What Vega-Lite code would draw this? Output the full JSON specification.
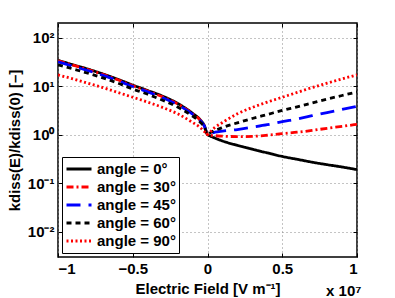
{
  "$schema": "https://vega.github.io/schema/vega-lite/v6.json",
  "width": 299,
  "height": 234,
  "autosize": {"type": "none"},
  "padding": {"left": 58, "top": 23, "right": 38, "bottom": 41},
  "background": "white",
  "title": {"text": "x 10⁷", "orient": "bottom", "anchor": "end", "font": "Liberation Sans", "fontSize": 15, "fontWeight": "bold", "color": "black", "offset": -12, "dx": 4},
  "config": {
    "font": "Liberation Sans",
    "view": {"stroke": "black", "strokeWidth": 1.5},
    "axis": {"labelFont": "Liberation Sans", "labelFontWeight": "bold", "labelFontSize": 15, "labelColor": "black", "titleFont": "Liberation Sans", "titleFontWeight": "bold", "titleFontSize": 15, "titleColor": "black", "domain": false, "tickColor": "black", "tickSize": -4, "tickWidth": 1, "grid": true, "gridColor": "#888", "gridDash": [1, 3], "gridWidth": 1}
  },
  "data": {"values": [
    {"x": -1, "y": 33.9, "a": "angle = 0°"}, {"x": -0.9, "y": 27.5, "a": "angle = 0°"}, {"x": -0.8, "y": 22.4, "a": "angle = 0°"}, {"x": -0.7, "y": 17.8, "a": "angle = 0°"}, {"x": -0.6, "y": 13.8, "a": "angle = 0°"}, {"x": -0.5, "y": 10.5, "a": "angle = 0°"}, {"x": -0.4, "y": 8.1, "a": "angle = 0°"}, {"x": -0.3, "y": 6.2, "a": "angle = 0°"}, {"x": -0.2, "y": 4.4, "a": "angle = 0°"}, {"x": -0.1, "y": 2.75, "a": "angle = 0°"}, {"x": -0.05, "y": 2.04, "a": "angle = 0°"}, {"x": -0.02, "y": 1.51, "a": "angle = 0°"}, {"x": 0, "y": 1, "a": "angle = 0°"}, {"x": 0.02, "y": 0.93, "a": "angle = 0°"}, {"x": 0.05, "y": 0.85, "a": "angle = 0°"}, {"x": 0.1, "y": 0.74, "a": "angle = 0°"}, {"x": 0.2, "y": 0.6, "a": "angle = 0°"}, {"x": 0.3, "y": 0.5, "a": "angle = 0°"}, {"x": 0.4, "y": 0.42, "a": "angle = 0°"}, {"x": 0.5, "y": 0.355, "a": "angle = 0°"}, {"x": 0.6, "y": 0.31, "a": "angle = 0°"}, {"x": 0.7, "y": 0.27, "a": "angle = 0°"}, {"x": 0.8, "y": 0.24, "a": "angle = 0°"}, {"x": 0.9, "y": 0.215, "a": "angle = 0°"}, {"x": 1, "y": 0.19, "a": "angle = 0°"},
    {"x": -1, "y": 33.2, "a": "angle = 30°"}, {"x": -0.9, "y": 27.0, "a": "angle = 30°"}, {"x": -0.8, "y": 22.0, "a": "angle = 30°"}, {"x": -0.7, "y": 17.4, "a": "angle = 30°"}, {"x": -0.6, "y": 13.5, "a": "angle = 30°"}, {"x": -0.5, "y": 10.2, "a": "angle = 30°"}, {"x": -0.4, "y": 7.9, "a": "angle = 30°"}, {"x": -0.3, "y": 6.0, "a": "angle = 30°"}, {"x": -0.2, "y": 4.3, "a": "angle = 30°"}, {"x": -0.1, "y": 2.7, "a": "angle = 30°"}, {"x": -0.05, "y": 2.0, "a": "angle = 30°"}, {"x": -0.02, "y": 1.48, "a": "angle = 30°"}, {"x": 0, "y": 1, "a": "angle = 30°"}, {"x": 0.02, "y": 0.97, "a": "angle = 30°"}, {"x": 0.05, "y": 0.95, "a": "angle = 30°"}, {"x": 0.1, "y": 0.93, "a": "angle = 30°"}, {"x": 0.2, "y": 0.91, "a": "angle = 30°"}, {"x": 0.3, "y": 0.92, "a": "angle = 30°"}, {"x": 0.4, "y": 0.97, "a": "angle = 30°"}, {"x": 0.5, "y": 1.05, "a": "angle = 30°"}, {"x": 0.6, "y": 1.12, "a": "angle = 30°"}, {"x": 0.7, "y": 1.22, "a": "angle = 30°"}, {"x": 0.8, "y": 1.35, "a": "angle = 30°"}, {"x": 0.9, "y": 1.48, "a": "angle = 30°"}, {"x": 1, "y": 1.63, "a": "angle = 30°"},
    {"x": -1, "y": 31.6, "a": "angle = 45°"}, {"x": -0.9, "y": 25.7, "a": "angle = 45°"}, {"x": -0.8, "y": 20.9, "a": "angle = 45°"}, {"x": -0.7, "y": 16.6, "a": "angle = 45°"}, {"x": -0.6, "y": 12.9, "a": "angle = 45°"}, {"x": -0.5, "y": 9.8, "a": "angle = 45°"}, {"x": -0.4, "y": 7.6, "a": "angle = 45°"}, {"x": -0.3, "y": 5.75, "a": "angle = 45°"}, {"x": -0.2, "y": 4.12, "a": "angle = 45°"}, {"x": -0.1, "y": 2.63, "a": "angle = 45°"}, {"x": -0.05, "y": 1.95, "a": "angle = 45°"}, {"x": -0.02, "y": 1.48, "a": "angle = 45°"}, {"x": 0, "y": 1, "a": "angle = 45°"}, {"x": 0.02, "y": 1.06, "a": "angle = 45°"}, {"x": 0.05, "y": 1.12, "a": "angle = 45°"}, {"x": 0.1, "y": 1.18, "a": "angle = 45°"}, {"x": 0.2, "y": 1.27, "a": "angle = 45°"}, {"x": 0.3, "y": 1.42, "a": "angle = 45°"}, {"x": 0.4, "y": 1.6, "a": "angle = 45°"}, {"x": 0.5, "y": 1.85, "a": "angle = 45°"}, {"x": 0.6, "y": 2.1, "a": "angle = 45°"}, {"x": 0.7, "y": 2.45, "a": "angle = 45°"}, {"x": 0.8, "y": 2.85, "a": "angle = 45°"}, {"x": 0.9, "y": 3.3, "a": "angle = 45°"}, {"x": 1, "y": 3.85, "a": "angle = 45°"},
    {"x": -1, "y": 27.5, "a": "angle = 60°"}, {"x": -0.9, "y": 22.6, "a": "angle = 60°"}, {"x": -0.8, "y": 18.4, "a": "angle = 60°"}, {"x": -0.7, "y": 14.8, "a": "angle = 60°"}, {"x": -0.6, "y": 11.5, "a": "angle = 60°"}, {"x": -0.5, "y": 8.7, "a": "angle = 60°"}, {"x": -0.4, "y": 6.8, "a": "angle = 60°"}, {"x": -0.3, "y": 5.1, "a": "angle = 60°"}, {"x": -0.2, "y": 3.7, "a": "angle = 60°"}, {"x": -0.1, "y": 2.4, "a": "angle = 60°"}, {"x": -0.05, "y": 1.82, "a": "angle = 60°"}, {"x": -0.02, "y": 1.41, "a": "angle = 60°"}, {"x": 0, "y": 1, "a": "angle = 60°"}, {"x": 0.02, "y": 1.1, "a": "angle = 60°"}, {"x": 0.05, "y": 1.22, "a": "angle = 60°"}, {"x": 0.1, "y": 1.4, "a": "angle = 60°"}, {"x": 0.2, "y": 1.75, "a": "angle = 60°"}, {"x": 0.3, "y": 2.15, "a": "angle = 60°"}, {"x": 0.4, "y": 2.6, "a": "angle = 60°"}, {"x": 0.5, "y": 3.15, "a": "angle = 60°"}, {"x": 0.6, "y": 3.75, "a": "angle = 60°"}, {"x": 0.7, "y": 4.5, "a": "angle = 60°"}, {"x": 0.8, "y": 5.4, "a": "angle = 60°"}, {"x": 0.9, "y": 6.4, "a": "angle = 60°"}, {"x": 1, "y": 7.6, "a": "angle = 60°"},
    {"x": -1, "y": 17.0, "a": "angle = 90°"}, {"x": -0.9, "y": 14.1, "a": "angle = 90°"}, {"x": -0.8, "y": 11.5, "a": "angle = 90°"}, {"x": -0.7, "y": 9.33, "a": "angle = 90°"}, {"x": -0.6, "y": 7.41, "a": "angle = 90°"}, {"x": -0.5, "y": 5.89, "a": "angle = 90°"}, {"x": -0.4, "y": 4.68, "a": "angle = 90°"}, {"x": -0.3, "y": 3.63, "a": "angle = 90°"}, {"x": -0.2, "y": 2.69, "a": "angle = 90°"}, {"x": -0.1, "y": 1.78, "a": "angle = 90°"}, {"x": -0.05, "y": 1.41, "a": "angle = 90°"}, {"x": -0.02, "y": 1.15, "a": "angle = 90°"}, {"x": 0, "y": 1, "a": "angle = 90°"}, {"x": 0.02, "y": 1.15, "a": "angle = 90°"}, {"x": 0.05, "y": 1.41, "a": "angle = 90°"}, {"x": 0.1, "y": 1.78, "a": "angle = 90°"}, {"x": 0.2, "y": 2.69, "a": "angle = 90°"}, {"x": 0.3, "y": 3.63, "a": "angle = 90°"}, {"x": 0.4, "y": 4.68, "a": "angle = 90°"}, {"x": 0.5, "y": 5.89, "a": "angle = 90°"}, {"x": 0.6, "y": 7.41, "a": "angle = 90°"}, {"x": 0.7, "y": 9.33, "a": "angle = 90°"}, {"x": 0.8, "y": 11.5, "a": "angle = 90°"}, {"x": 0.9, "y": 14.1, "a": "angle = 90°"}, {"x": 1, "y": 17.0, "a": "angle = 90°"}
  ]},
  "layer": [
    {
      "mark": {"type": "line", "strokeWidth": 2.8, "interpolate": "monotone", "strokeCap": "butt", "clip": true},
      "encoding": {
        "x": {"field": "x", "type": "quantitative", "scale": {"domain": [-1, 1], "nice": false},
              "axis": {"values": [-1, -0.5, 0, 0.5, 1], "format": ".1~f", "title": "Electric Field [V m⁻¹]", "labelPadding": 8, "titlePadding": 5}},
        "y": {"field": "y", "type": "quantitative", "scale": {"type": "log", "domain": [0.003, 200], "nice": false},
              "axis": {"values": [0.01, 0.1, 1, 10, 100], "labelExpr": "datum.value >= 99 ? '10²' : datum.value >= 9 ? '10¹' : datum.value >= 0.9 ? '10⁰' : datum.value >= 0.09 ? '10⁻¹' : '10⁻²'", "title": "kdiss(E)/kdiss(0) [–]", "labelPadding": 8, "titlePadding": 5}},
        "color": {"field": "a", "type": "nominal", "sort": null,
                  "scale": {"domain": ["angle = 0°", "angle = 30°", "angle = 45°", "angle = 60°", "angle = 90°"], "range": ["black", "#ff0000", "#0000ff", "black", "#ff0000"]},
                  "legend": {"title": null, "orient": "bottom-left", "offset": 4, "fillColor": "white", "strokeColor": "black", "padding": 3, "symbolType": "stroke", "symbolStrokeWidth": 2.8, "symbolSize": 625, "clipHeight": 18, "labelFont": "Liberation Sans", "labelFontWeight": "bold", "labelFontSize": 15, "labelColor": "black", "rowPadding": 0, "labelOffset": 4}},
        "strokeDash": {"field": "a", "type": "nominal", "sort": null,
                  "scale": {"domain": ["angle = 0°", "angle = 30°", "angle = 45°", "angle = 60°", "angle = 90°"], "range": [[1, 0], [7, 3, 2, 3], [14, 8], [5, 4], [2, 2.5]]},
                  "legend": {"title": null, "orient": "bottom-left", "offset": 4, "fillColor": "white", "strokeColor": "black", "padding": 3, "symbolType": "stroke", "symbolStrokeWidth": 2.8, "symbolSize": 625, "clipHeight": 18, "labelFont": "Liberation Sans", "labelFontWeight": "bold", "labelFontSize": 15, "labelColor": "black", "rowPadding": 0, "labelOffset": 4}}
      }
    },
    {
      "mark": {"type": "line", "strokeOpacity": 0},
      "encoding": {
        "x": {"field": "x", "type": "quantitative", "axis": {"orient": "top", "values": [-1, -0.5, 0, 0.5, 1], "labels": false, "grid": false, "title": null}},
        "y": {"field": "y", "type": "quantitative", "axis": {"orient": "right", "values": [0.01, 0.1, 1, 10, 100], "labels": false, "grid": false, "title": null}},
        "detail": {"field": "a"}
      }
    }
  ],
  "resolve": {"axis": {"x": "independent", "y": "independent"}}
}
